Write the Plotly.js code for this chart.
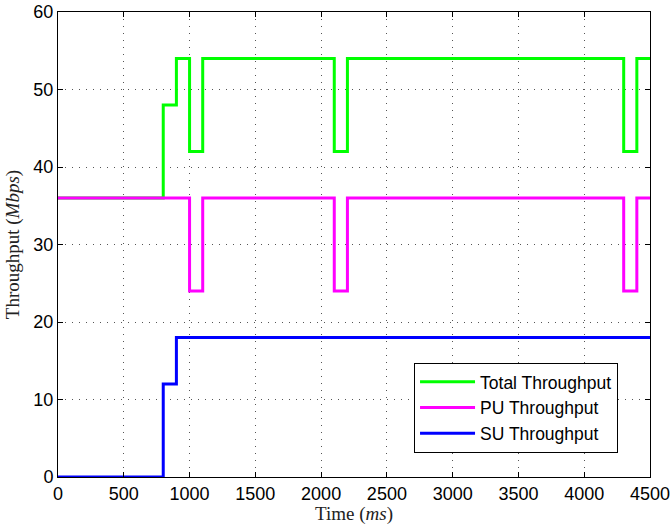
<!DOCTYPE html>
<html>
<head>
<meta charset="utf-8">
<script src="https://cdn.plot.ly/plotly-3.0.1.min.js"></script>
<style>body{margin:0;padding:0;background:#fff;} #chart{width:670px;height:525px;}</style>
</head>
<body>
<div id="chart"></div>
<script>
// Step breakpoints (ms) and values held until next breakpoint (Mbps)
const timeMs = [0, 800, 900, 1000, 1100, 2100, 2200, 4300, 4400, 4500];
const totalThroughput = [36, 48, 54, 42, 54, 42, 54, 42, 54, 54];
const puThroughput    = [36, 36, 36, 24, 36, 24, 36, 24, 36, 36];
const suThroughput    = [0, 12, 18, 18, 18, 18, 18, 18, 18, 18];
const seriesNames = ['Total Throughput', 'PU Throughput', 'SU Throughput'];
const xTicks = [0, 500, 1000, 1500, 2000, 2500, 3000, 3500, 4000, 4500];
const yTicks = [0, 10, 20, 30, 40, 50, 60];

const mk = (y, name, color) => ({
  x: timeMs, y: y, name: name, type: 'scatter', mode: 'lines',
  line: {shape: 'hv', color: color, width: 3}
});

const data = [
  mk(totalThroughput, seriesNames[0], '#00ff00'),
  mk(puThroughput, seriesNames[1], '#ff00ff'),
  mk(suThroughput, seriesNames[2], '#0000ff')
];

const axisCommon = {
  showline: true, linecolor: '#000', linewidth: 1, mirror: 'ticks',
  ticks: 'inside', ticklen: 5, tickcolor: '#000',
  showgrid: true, gridcolor: '#555', gridwidth: 1, griddash: '1px,6px',
  zeroline: false, ticklabeloverflow: 'allow',
  tickfont: {family: 'Liberation Sans, Arial, sans-serif', size: 18, color: '#000'}
};

const titleFont = {family: 'Liberation Serif, Times New Roman, serif', size: 19, color: '#222'};

const layout = {
  width: 670, height: 525,
  margin: {l: 58, r: 20, t: 12, b: 48},
  paper_bgcolor: '#fff', plot_bgcolor: '#fff',
  showlegend: true,
  xaxis: Object.assign({}, axisCommon, {
    range: [0, 4500], tickvals: xTicks, ticktext: xTicks.map(String),
    title: {text: 'Time (<i>ms</i>)', standoff: 1, font: titleFont}
  }),
  yaxis: Object.assign({}, axisCommon, {
    range: [0, 60], tickvals: yTicks, ticktext: yTicks.map(String),
    title: {text: 'Throughput (<i>Mbps</i>)', standoff: 8, font: titleFont}
  }),
  legend: {
    x: 0.946, y: 0.052, xanchor: 'right', yanchor: 'bottom',
    bgcolor: '#fff', bordercolor: '#000', borderwidth: 1,
    font: {family: 'Liberation Sans, Arial, sans-serif', size: 17.5, color: '#000'},
    itemwidth: 55
  }
};

Plotly.newPlot('chart', data, layout, {displayModeBar: false, staticPlot: true});
</script>
</body>
</html>
